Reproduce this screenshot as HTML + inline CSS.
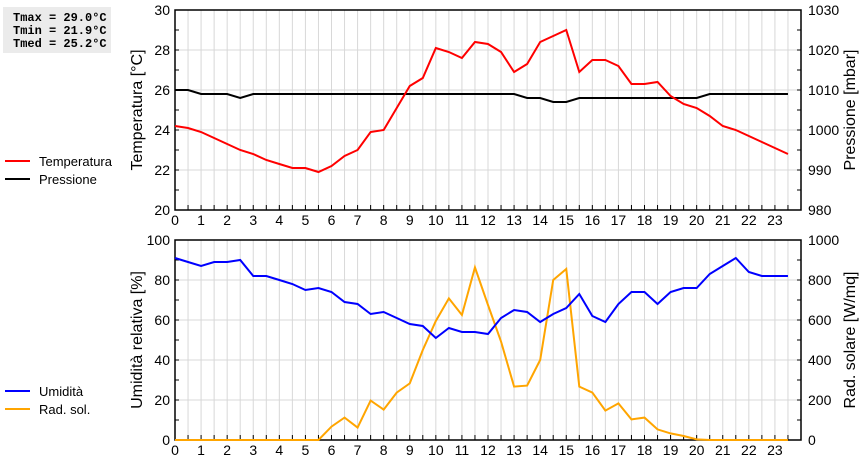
<!DOCTYPE html>
<html><head><meta charset="utf-8"><style>
body{margin:0;background:#fff;width:860px;height:460px;overflow:hidden}
svg text{font-family:"Liberation Sans",sans-serif}
</style></head><body>
<svg id="c" width="860" height="460" xmlns="http://www.w3.org/2000/svg">
<rect x="3" y="7" width="108" height="46" fill="#ebebeb"/>
<g font-family="Liberation Mono,monospace" font-weight="bold" font-size="12" fill="#000">
<text x="13" y="21" style="font-family:'Liberation Mono',monospace">Tmax = 29.0°C</text>
<text x="13" y="34" style="font-family:'Liberation Mono',monospace">Tmin = 21.9°C</text>
<text x="13" y="47" style="font-family:'Liberation Mono',monospace">Tmed = 25.2°C</text>
</g>
<g id="g"></g>
</svg>
<script>
const hours=[];for(let i=0;i<48;i++)hours.push(i*0.5);
const temperature=[24.2,24.1,23.9,23.6,23.3,23.0,22.8,22.5,22.3,22.1,22.1,21.9,22.2,22.7,23.0,23.9,24.0,25.1,26.2,26.6,28.1,27.9,27.6,28.4,28.3,27.9,26.9,27.3,28.4,28.7,29.0,26.9,27.5,27.5,27.2,26.3,26.3,26.4,25.7,25.3,25.1,24.7,24.2,24.0,23.7,23.4,23.1,22.8];
const pressure=[1010,1010,1009,1009,1009,1008,1009,1009,1009,1009,1009,1009,1009,1009,1009,1009,1009,1009,1009,1009,1009,1009,1009,1009,1009,1009,1009,1008,1008,1007,1007,1008,1008,1008,1008,1008,1008,1008,1008,1008,1008,1009,1009,1009,1009,1009,1009,1009];
const humidity=[91,89,87,89,89,90,82,82,80,78,75,76,74,69,68,63,64,61,58,57,51,56,54,54,53,61,65,64,59,63,66,73,62,59,68,74,74,68,74,76,76,83,87,91,84,82,82,82];
const radiation=[0,0,0,0,0,0,0,0,0,0,0,0,67,112,62,197,152,237,283,450,595,708,625,863,675,492,267,272,400,800,855,267,237,147,183,103,112,53,33,20,3,0,0,0,0,0,0,0];
const xTicks=[0,1,2,3,4,5,6,7,8,9,10,11,12,13,14,15,16,17,18,19,20,21,22,23];
const tTicks=[20,22,24,26,28,30];
const pTicks=[980,990,1000,1010,1020,1030];
const hTicks=[0,20,40,60,80,100];
const rTicks=[0,200,400,600,800,1000];
const L=175,R=801,NS="http://www.w3.org/2000/svg",G=document.getElementById('g');
const X=h=>L+(R-L)*h/24;
function mk(t,a,p){const e=document.createElementNS(NS,t);for(const k in a)e.setAttribute(k,a[k]);(p||G).appendChild(e);return e;}
function panel(top,bot,lmin,lmax,lt,rmin,rmax,rt,lTitle,rTitle,pfx){
 const YL=v=>bot-(v-lmin)/(lmax-lmin)*(bot-top);
 const YR=v=>bot-(v-rmin)/(rmax-rmin)*(bot-top);
 for(let i=1;i<48;i++){const l=mk('line',{x1:X(i/2),x2:X(i/2),y1:top,y2:bot,stroke:'#d8d8d8'});
 
 }
 lt.forEach(v=>{const l=mk('line',{x1:L,x2:R,y1:YL(v),y2:YL(v),stroke:'#d8d8d8'});
 
 
 const t=mk('text',{x:L-5,y:YL(v)+5,'text-anchor':'end','font-size':14});t.textContent=v;
 
 
 const m=(lt[1]-lt[0])/2;mk('line',{x1:L,x2:L+4,y1:YL(v),y2:YL(v),stroke:'#000'});if(v+m<=lmax)mk('line',{x1:L,x2:L+4,y1:YL(v+m),y2:YL(v+m),stroke:'#000'});});
 rt.forEach(v=>{const t=mk('text',{x:R+7,y:YR(v)+5,'font-size':14});t.textContent=v;
 
 
 const m=(rt[1]-rt[0])/2;mk('line',{x1:R-4,x2:R,y1:YR(v),y2:YR(v),stroke:'#000'});if(v+m<=rmax)mk('line',{x1:R-4,x2:R,y1:YR(v+m),y2:YR(v+m),stroke:'#000'});});
 xTicks.forEach(h=>{const t=mk('text',{x:X(h),y:bot+15,'text-anchor':'middle','font-size':14});t.textContent=h;
 
 });
 for(let i=1;i<48;i++)mk('line',{x1:X(i/2),x2:X(i/2),y1:bot,y2:bot-5,stroke:'#000'});
 const f=mk('rect',{x:L,y:top,width:R-L,height:bot-top,fill:'none',stroke:'#000','stroke-width':1.5});
 
 
 const cy=(top+bot)/2;
 const a=mk('text',{x:0,y:0,'font-size':16,'text-anchor':'middle',transform:`translate(142,${cy}) rotate(-90)`});a.textContent=lTitle;
 
 
 const b=mk('text',{x:0,y:0,'font-size':16,'text-anchor':'middle',transform:`translate(855,${cy}) rotate(-90)`});b.textContent=rTitle;
 
 
 return [YL,YR];
}
function line(vals,X_,Y,col,name){const p=mk('polyline',{points:vals.map((v,i)=>X_(hours[i])+','+Y(v)).join(' '),fill:'none',stroke:col,'stroke-width':2});
 
 }
function legend(y,col,label,name){mk('line',{x1:5,x2:30,y1:y,y2:y,stroke:col,'stroke-width':2});const t=mk('text',{x:39,y:y+5,'font-size':13});t.textContent=label;
 
 }
const [T,P]=panel(10,210,20,30,tTicks,980,1030,pTicks,'Temperatura [°C]','Pressione [mbar]','top');
line(pressure,X,P,'#000','pressure-line');
line(temperature,X,T,'#f00','temperature-line');
const [H,Rd]=panel(240,440,0,100,hTicks,0,1000,rTicks,'Umidità relativa [%]','Rad. solare [W/mq]','bottom');
line(radiation,X,Rd,'#ffa500','radiation-line');
line(humidity,X,H,'#00f','humidity-line');
legend(161,'#f00','Temperatura','legend-temperatura');
legend(179,'#000','Pressione','legend-pressione');
legend(391,'#00f','Umidità','legend-umidita');
legend(409,'#ffa500','Rad. sol.','legend-rad-sol');
</script>
</body></html>
